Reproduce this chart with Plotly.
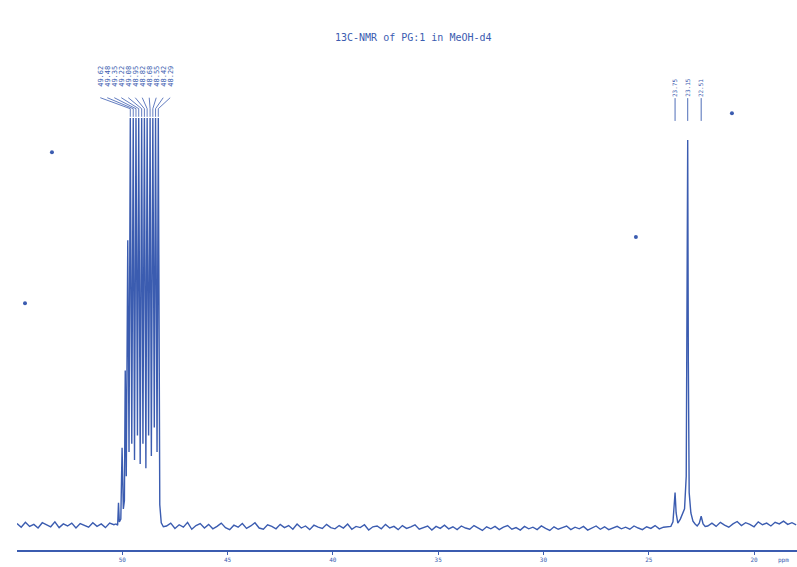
import numpy as np
import plotly.graph_objects as go

# ---------------- data ----------------
title_text = "13C-NMR of PG:1 in MeOH-d4"

# baseline segment left of the solvent cluster (55.0 -> 50.4 ppm, step 0.2)
segA_ppm = np.round(np.arange(55.0, 50.39, -0.2), 2)
segA_int = [0.4, -0.5, 0.7, -0.3, 0.2, -0.7, 0.6, 0.0, -0.4, 0.8,
            -0.6, 0.3, -0.2, 0.5, -0.7, 0.4, 0.0, -0.5, 0.6, -0.3,
            0.3, -0.6, 0.5, 0.1]

# MeOH-d4 multiplet region
cluster_ppm = [50.30, 50.22, 50.18, 50.14, 50.07, 50.01, 49.95, 49.90, 49.86, 49.81,
               49.74, 49.68, 49.62, 49.55, 49.48, 49.42, 49.35, 49.28, 49.22, 49.15,
               49.08, 49.02, 48.95, 48.88, 48.82, 48.75, 48.68, 48.62, 48.55, 48.48,
               48.42, 48.35, 48.29, 48.22, 48.15, 48.05]
cluster_int = [0.3, 0.0, 5.5, 0.8, 1.5, 19, 4, 6, 38, 12,
               70, 18, 100, 20, 100, 16, 100, 22, 100, 15,
               100, 20, 100, 14, 100, 22, 100, 17, 100, 24,
               100, 18, 100, 5, 0.6, -0.4]

# middle baseline (47.9 -> 24.1 ppm, step 0.2)
segB_ppm = np.round(np.arange(47.9, 24.09, -0.2), 2)
segB_int = [-0.2, 0.5, -0.8, 0.1, -0.5, 0.7, -1.0, -0.1, 0.4, -0.7,
            0.2, -0.9, -0.3, 0.5, -0.6, -1.1, 0.0, -0.5, 0.4, -0.8,
            -0.2, 0.6, -0.7, -1.0, 0.1, -0.3, -0.9, 0.2, -0.6, -0.1,
            -1.0, 0.3, -0.7, -0.2, -1.1, 0.0, -0.5, -0.8, 0.2, -0.6,
            -0.9, -0.1, -0.7, 0.3, -1.0, -0.3, -0.6, 0.1, -1.2, -0.4,
            -0.2, -0.9, 0.2, -0.7, -0.3, -1.1, -0.1, -0.8, -0.4, 0.1,
            -1.0, -0.5, -0.2, -1.2, -0.3, -0.8, 0.0, -0.9, -0.4, -1.1,
            -0.2, -0.7, -1.0, -0.1, -0.8, -1.3, -0.4, -0.9, -0.3, -1.1,
            -0.5, -0.1, -1.0, -0.6, -1.2, -0.3, -0.9, -0.5, -1.1, -0.2,
            -0.8, -1.3, -0.4, -1.0, -0.6, -0.2, -1.1, -0.5, -0.9, -0.3,
            -1.2, -0.6, -0.2, -1.0, -0.4, -1.1, -0.7, -0.3, -0.9, -0.5,
            -1.0, -0.2, -0.7, -1.1, -0.4, -0.8, -0.1, -0.9, -0.5, -0.3]

# sample peaks region
right_ppm = [23.95, 23.85, 23.80, 23.75, 23.70, 23.62, 23.50, 23.40, 23.30, 23.22,
             23.18, 23.15, 23.12, 23.08, 23.00, 22.90, 22.80, 22.70, 22.60, 22.51,
             22.42, 22.32]
right_int = [-0.3, 0.8, 4, 8, 3, 0.5, 1.5, 3, 4, 12,
             55, 94.6, 40, 8, 3, 1, 0.3, -0.2, 0.5, 2.2,
             0.3, -0.3]

# right baseline (22.2 -> 18.0 ppm, step 0.2)
segC_ppm = np.round(np.arange(22.2, 17.99, -0.2), 2)
segC_int = [-0.2, 0.5, -0.3, 0.7, 0.0, -0.5, 0.3, 0.9, -0.1, 0.6,
            0.2, -0.4, 0.8, 0.1, 0.5, -0.2, 0.7, 0.3, 1.0, 0.2,
            0.6, 0.1]

# peak-picking labels
cluster_labels = [49.62, 49.48, 49.35, 49.22, 49.08, 48.95, 48.82, 48.68, 48.55, 48.42, 48.29]
right_labels = [23.75, 23.15, 22.51]

# scan specks visible on the page
speck_ppm = [53.34, 54.62, 25.61, 21.05]
speck_int = [91.6, 54.5, 70.8, 101.2]

tick_vals = [50, 45, 40, 35, 30, 25, 20]
tick_text = ["50", "45", "40", "35", "30", "25", "20"]

# ---------------- figure ----------------
BLUE = "#3b5cb0"

ppm = list(segA_ppm) + cluster_ppm + list(segB_ppm) + right_ppm + list(segC_ppm)
inten = segA_int + cluster_int + segB_int + right_int + segC_int

fig = go.Figure()
fig.add_trace(go.Scatter(x=ppm, y=inten, mode="lines",
                         line=dict(color=BLUE, width=1.4), hoverinfo="skip",
                         showlegend=False))
fig.add_trace(go.Scatter(x=speck_ppm, y=speck_int, mode="markers",
                         marker=dict(color=BLUE, size=4), hoverinfo="skip",
                         showlegend=False))

annotations = []
shapes = []

# cluster labels spread out with angled connectors
center = (cluster_labels[0] + cluster_labels[-1]) / 2
n = len(cluster_labels)
for i, v in enumerate(cluster_labels):
    lx = center + 0.43 + ((n - 1) / 2 - i) * 0.332
    annotations.append(dict(x=lx, y=110.2, xref="x", yref="y", text=f"{v:.2f}",
                            textangle=-90, showarrow=False,
                            font=dict(family="DejaVu Sans Mono", size=7, color=BLUE)))
    shapes.append(dict(type="line", xref="x", yref="y", x0=lx, y0=105.0, x1=v, y1=102.3,
                       line=dict(color=BLUE, width=0.8)))
    shapes.append(dict(type="line", xref="x", yref="y", x0=v, y0=102.3, x1=v, y1=100.3,
                       line=dict(color=BLUE, width=0.8)))

for v in right_labels:
    annotations.append(dict(x=v, y=107.4, xref="x", yref="y", text=f"{v:.2f}",
                            textangle=-90, showarrow=False,
                            font=dict(family="DejaVu Sans Mono", size=6, color=BLUE)))
    shapes.append(dict(type="line", xref="x", yref="y", x0=v, y0=104.9, x1=v, y1=99.3,
                       line=dict(color=BLUE, width=0.9)))

annotations.append(dict(x=0.508, y=0.931, xref="paper", yref="paper", text=title_text,
                        showarrow=False, yanchor="middle",
                        font=dict(family="DejaVu Sans Mono", size=10, color=BLUE)))
annotations.append(dict(x=18.6, y=0, xref="x", yref="paper", text="ppm", showarrow=False,
                        yanchor="top", yshift=-4,
                        font=dict(family="DejaVu Sans Mono", size=6, color=BLUE)))

fig.update_layout(
    width=797, height=567,
    margin=dict(l=17, r=0, t=0, b=17),
    paper_bgcolor="white", plot_bgcolor="white",
    annotations=annotations, shapes=shapes,
    xaxis=dict(range=[55.0, 17.96], showgrid=False, zeroline=False,
               showline=True, linecolor=BLUE, linewidth=1.5,
               tickvals=tick_vals, ticktext=tick_text, ticks="outside",
               ticklen=3, tickcolor=BLUE,
               tickfont=dict(family="DejaVu Sans Mono", size=6, color=BLUE)),
    yaxis=dict(range=[-6.1, 129], visible=False, showgrid=False, zeroline=False),
)

fig.write_html("out.html", config={"displayModeBar": False},
               post_script="document.body.style.margin='0';document.body.style.padding='0';")
